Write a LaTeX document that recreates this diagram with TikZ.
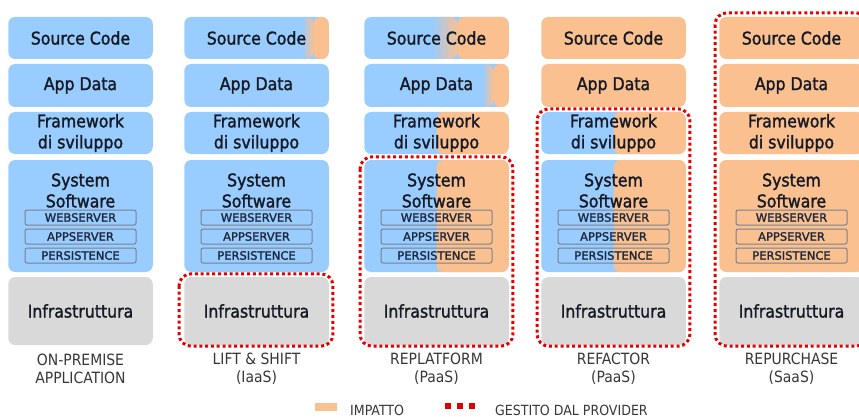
\documentclass[tikz,border=0pt]{standalone}
\usepackage{fontspec}
\setmainfont{DejaVu Sans Condensed}
\newfontface\heavyface{DejaVu Sans Condensed}[FakeBold=1.6]
\newfontface\subface{DejaVu Sans}[FakeBold=1.6]
\usetikzlibrary{calc}

\definecolor{skyc}{RGB}{153,204,255}
\definecolor{peach}{RGB}{250,192,143}
\definecolor{stone}{RGB}{217,217,217}
\definecolor{ink}{RGB}{22,26,36}
\definecolor{subink}{RGB}{30,40,60}
\definecolor{capgray}{RGB}{55,55,55}
\definecolor{provred}{RGB}{228,0,0}
\definecolor{subedge}{RGB}{120,130,140}

% one cloud-migration stack: id, centre x, fills of the four upper layers, caption
\newcommand\stackcol[7]{%
  \node[layer,#3,minimum height=42pt] (#1src) at (#2,38) {Source Code};
  \node[layer,#4,minimum height=43pt] (#1app) at (#2,85.5) {App Data};
  \node[layer,#5,minimum height=42pt] (#1fw) at (#2,133) {Framework\\di sviluppo};
  \node[layer,#6,minimum height=112pt] (#1sys) at (#2,216) {};
  \node[text=ink,align=center,font=\heavyface\fontsize{17.5}{21}\selectfont] (#1syst) at (#2,190.5) {System\\Software};
  \node[subbox] (#1web) at (#2,217.5) {WEBSERVER};
  \node[subbox] (#1as) at (#2,236.5) {APPSERVER};
  \node[subbox] (#1per) at (#2,255.5) {PERSISTENCE};
  \node[layer,fill=stone,minimum height=68pt] (#1inf) at (#2,311) {Infrastruttura};
  \node[caption] (#1cap) at (#2,369) {#7};
}

\begin{document}
\begin{tikzpicture}[x=1pt,y=-1pt,
  layer/.style={rectangle,rounded corners=7pt,minimum width=144.5pt,inner sep=0pt,
    align=center,text=ink,font=\heavyface\fontsize{17.5}{21}\selectfont},
  onprem/.style={fill=skyc},
  impact/.style={fill=peach},
  halfway/.style={fill=skyc,path picture={
      \fill[peach] (path picture bounding box.south) rectangle (path picture bounding box.north east);}},
  fade/.style 2 args={fill=skyc,path picture={
      \fill[peach] ($(path picture bounding box.north west)+(#2,0)$) rectangle (path picture bounding box.south east);
      \shade[left color=skyc,right color=peach]
        ($(path picture bounding box.north west)+(#1,0)$) rectangle ($(path picture bounding box.south west)+(#2,0)$);}},
  subbox/.style={rectangle,rounded corners=2pt,draw=subedge,line width=1pt,
    minimum width=111pt,minimum height=15pt,inner sep=0pt,text=subink,font=\subface\fontsize{11.5}{13}\selectfont},
  caption/.style={align=center,text=capgray,font=\fontsize{15.5}{18}\selectfont},
  provider/.style={draw=provred,line width=3pt,dash pattern=on 3pt off 2.8pt,rounded corners=12pt},
  legendtext/.style={anchor=west,inner sep=0pt,text=capgray,font=\fontsize{14}{16}\selectfont},
]
\useasboundingbox (0,0) rectangle (859,417);
\clip (0,0) rectangle (859,417);

% the five migration strategies
\stackcol{a}{80.5}{onprem}{onprem}{onprem}{onprem}{ON-PREMISE\\APPLICATION}
\stackcol{b}{256.5}{fade={118pt}{129pt}}{onprem}{onprem}{onprem}{LIFT \& SHIFT\\(IaaS)}
\stackcol{c}{436.5}{fade={68pt}{93pt}}{fade={118pt}{129pt}}{halfway}{halfway}{REPLATFORM\\(PaaS)}
\stackcol{d}{613.5}{impact}{impact}{halfway}{halfway}{REFACTOR\\(PaaS)}
\stackcol{e}{791.5}{impact}{impact}{impact}{impact}{REPURCHASE\\(SaaS)}

% layers managed by the provider
\draw[provider] ($(binf.north west)+(-5,-3)$) rectangle ($(binf.south east)+(4,1)$);
\draw[provider] ($(csys.north west)+(-4,-3)$) rectangle ($(cinf.south east)+(4,1)$);
\draw[provider] ($(dfw.north west)+(-4,-3)$) rectangle ($(dinf.south east)+(4,1)$);
\draw[provider] ($(esrc.north west)+(-4,-4)$) rectangle ($(einf.south east)+(4,1)$);

% legend
\node[fill=peach,minimum width=22pt,minimum height=8pt,inner sep=0pt] (keyimp) at (326,407) {};
\node[legendtext] (keyimpt) at (350,410) {IMPATTO};
\coordinate (keyprova) at (445,406);
\coordinate (keyprovb) at (475,406);
\draw[provred,line width=6pt,dash pattern=on 6pt off 6pt] (keyprova) -- (keyprovb);
\node[legendtext] (keyprovt) at (495,410) {GESTITO DAL PROVIDER};
\end{tikzpicture}
\end{document}
